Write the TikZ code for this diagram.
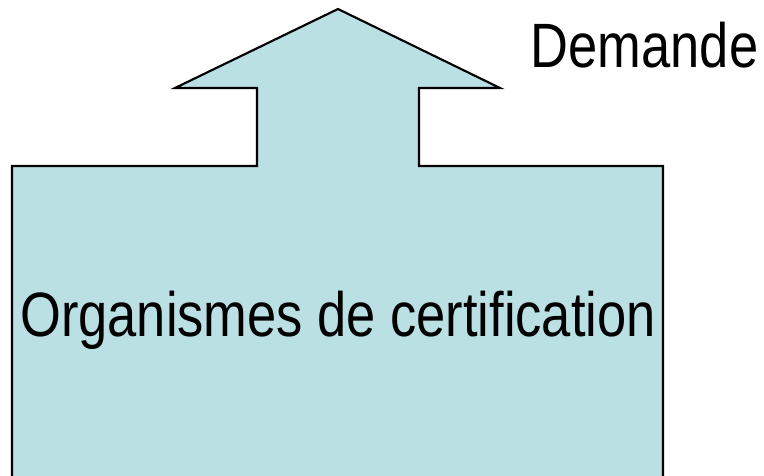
\documentclass[tikz,border=0pt]{standalone}
\usepackage{fontspec}
\setmainfont{Liberation Sans}
\usepackage{xcolor}
\usetikzlibrary{positioning}
\definecolor{certblue}{HTML}{BAE0E3}
\tikzset{
bigtext/.style={inner sep=0pt, font=\fontsize{47}{50}\selectfont, xscale=0.837},
certshape/.style={fill=certblue, draw=black, line width=1.6pt, line join=miter}
}

\begin{document}
\begin{tikzpicture}[x=0.75pt, y=-0.75pt]
  \useasboundingbox (0,0) rectangle (764,475);
  \clip (0,0) rectangle (764,475);
  % box with the arrow on top
  \draw[certshape] (12,490) -- (12,166) -- (257,166) -- (257,88) -- (175,88) -- (338,9)
    -- (500,88) -- (419,88) -- (419,166) -- (663,166) -- (663,490) -- cycle;
  \node[bigtext] (organismes) at (338,320) {Organismes de certification};
  \node[bigtext] (demande) at (644.5,45) {Demande};
\end{tikzpicture}
\end{document}
